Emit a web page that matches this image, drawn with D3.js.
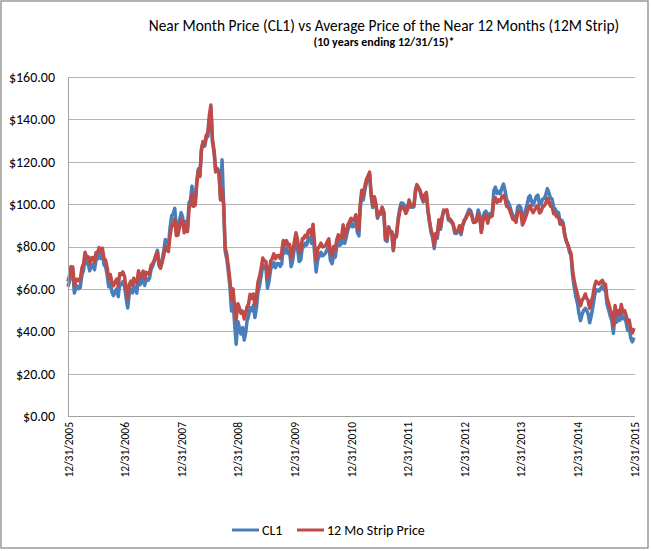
<!DOCTYPE html>
<html>
<head>
<meta charset="utf-8">
<script src="https://cdn.jsdelivr.net/npm/d3@7"></script>
<style>
    body { margin: 0; background: #fff; }
    svg { display: block; font-family: Carlito, Calibri, Lato, sans-serif; }
</style>
</head>
<body>
<svg id="chart"></svg>
<script>
// sample dates: 10th, 20th and last day of every month, starting after 12/31/2005
const years = [2006, 2007, 2008, 2009, 2010, 2011, 2012, 2013, 2014, 2015];
const startDate = new Date(2005, 11, 31);
const tickDates = [2005, 2006, 2007, 2008, 2009, 2010, 2011, 2012, 2013, 2014, 2015].map(y => new Date(y, 11, 31));

// CL1 near month price, 3 readings per month
const cl1Start = 61.0;
const cl1_2006 = [63.9, 68.4, 67.9, 58.0, 60.5, 61.4, 60.1, 60.6, 66.6, 68.7, 74.5, 71.9,
                  72.1, 68.5, 71.3, 71.4, 69.0, 73.9, 74.1, 76.5, 74.4, 76.3, 71.4, 70.3,
                  66.3, 61.0, 62.9, 58.6, 56.8, 58.7, 60.0, 56.3, 62.4, 62.0, 63.4, 61.0];
const cl1_2007 = [55.6, 51.0, 58.1, 59.9, 58.1, 61.8, 60.0, 58.0, 65.9, 61.9, 63.4, 65.7,
                  61.6, 64.9, 64.0, 65.0, 69.1, 70.7, 72.8, 75.6, 78.2, 71.5, 69.9, 74.0,
                  78.0, 83.3, 81.7, 80.3, 88.6, 94.5, 95.5, 98.0, 88.7, 87.9, 92.2, 96.0];
const cl1_2008 = [93.7, 88.0, 91.8, 88.4, 100.7, 101.8, 108.5, 102.0, 101.6, 110.9, 116.7, 113.5,
                  125.8, 129.1, 127.4, 131.3, 131.9, 140.0, 145.0, 129.3, 124.1, 115.2, 116.9, 115.5,
                  102.6, 120.9, 100.6, 77.7, 74.3, 67.8, 60.8, 49.6, 54.4, 43.5, 33.9, 44.6];
const cl1_2009 = [41.7, 38.7, 41.7, 35.9, 39.5, 44.8, 47.1, 51.1, 49.7, 52.2, 46.5, 51.1,
                  58.5, 61.5, 66.3, 71.3, 69.6, 69.9, 60.4, 63.6, 69.5, 70.6, 72.5, 70.0,
                  71.9, 72.0, 70.6, 71.8, 79.6, 77.0, 79.1, 76.7, 77.3, 70.5, 73.4, 79.4];
const cl1_2010 = [82.7, 79.0, 72.9, 73.8, 79.8, 79.7, 81.5, 80.7, 83.8, 84.3, 81.5, 86.2,
                  76.8, 68.0, 74.0, 75.5, 77.2, 75.6, 76.1, 77.0, 78.9, 80.3, 73.5, 71.9,
                  76.5, 74.9, 80.0, 82.7, 80.6, 81.4, 87.8, 81.5, 84.1, 87.8, 89.4, 91.4];
const cl1_2011 = [89.3, 89.6, 92.2, 86.7, 85.0, 97.0, 104.4, 102.0, 106.7, 110.3, 111.5, 113.9,
                  103.9, 98.4, 102.7, 99.3, 93.3, 95.4, 95.2, 98.1, 95.7, 82.9, 82.4, 88.8,
                  87.2, 86.9, 78.0, 85.4, 85.3, 93.2, 97.8, 100.5, 100.4, 99.4, 97.2, 98.8];
const cl1_2012 = [101.3, 98.5, 98.5, 98.7, 105.8, 108.6, 107.4, 106.1, 103.0, 101.0, 103.9, 104.9,
                  96.8, 91.5, 86.5, 84.1, 79.0, 85.0, 83.9, 91.8, 88.1, 93.4, 96.7, 96.5,
                  96.5, 92.4, 92.2, 91.3, 90.1, 86.2, 86.1, 86.8, 88.9, 85.6, 89.5, 91.8];
const cl1_2013 = [93.8, 95.5, 97.5, 97.0, 94.5, 92.0, 92.1, 92.9, 97.2, 94.6, 87.0, 93.5,
                  96.0, 96.7, 92.0, 95.4, 95.4, 96.6, 106.5, 108.0, 105.0, 106.0, 104.9, 107.7,
                  109.5, 106.4, 102.3, 101.0, 99.2, 96.4, 94.6, 93.9, 92.7, 98.5, 99.3, 98.4];
const cl1_2014 = [92.7, 94.4, 97.5, 100.1, 103.3, 104.0, 101.1, 99.5, 101.6, 103.6, 104.3, 99.7,
                  100.0, 102.4, 102.7, 104.4, 107.3, 105.4, 102.9, 102.4, 98.2, 97.7, 96.1, 96.0,
                  91.7, 92.4, 91.2, 85.8, 82.7, 80.5, 77.4, 75.6, 66.2, 61.0, 56.5, 53.3];
const cl1_2015 = [48.4, 45.0, 48.2, 50.0, 50.8, 49.8, 48.3, 44.0, 47.6, 51.6, 56.4, 59.6,
                  59.4, 59.0, 60.3, 61.4, 59.6, 59.5, 52.7, 50.2, 47.1, 44.9, 39.0, 49.2,
                  44.2, 46.7, 45.1, 49.6, 45.9, 46.6, 44.2, 40.4, 41.7, 36.8, 35.0, 37.0];

// average of the near 12 months (12M strip), same dates
const stripStart = 63.5;
const strip_2006 = [66.5, 70.5, 70.3, 61.5, 63.8, 64.6, 63.8, 64.3, 69.9, 71.8, 77.3, 75.0,
                    75.2, 71.9, 74.7, 74.8, 72.5, 77.2, 77.2, 79.5, 77.6, 79.2, 74.5, 73.5,
                    69.8, 64.8, 66.8, 63.0, 61.5, 63.3, 64.6, 61.3, 67.2, 66.8, 68.0, 65.8];
const strip_2007 = [59.8, 55.5, 62.2, 63.7, 61.8, 65.0, 63.5, 62.7, 68.6, 65.0, 66.5, 68.4,
                    64.8, 67.8, 67.0, 67.6, 71.0, 72.0, 73.4, 75.6, 77.3, 71.2, 69.8, 72.7,
                    75.8, 80.0, 78.7, 77.6, 84.8, 89.8, 90.0, 93.0, 85.2, 85.3, 89.1, 92.8];
const strip_2008 = [92.0, 86.5, 90.0, 87.0, 98.0, 99.7, 104.5, 99.0, 99.6, 109.5, 115.8, 113.0,
                    125.6, 129.5, 128.2, 132.5, 133.5, 141.8, 146.8, 130.8, 125.0, 115.4, 116.0, 115.0,
                    102.0, 107.0, 100.0, 79.5, 76.6, 70.5, 64.0, 55.0, 60.0, 51.5, 45.5, 53.0];
const strip_2009 = [51.0, 48.5, 49.5, 45.8, 48.0, 51.5, 52.8, 57.4, 55.5, 57.6, 52.5, 56.5,
                    63.2, 65.8, 70.0, 74.6, 73.2, 73.0, 64.8, 67.6, 73.2, 74.4, 76.5, 74.2,
                    75.7, 75.8, 74.4, 77.5, 82.8, 80.6, 82.8, 80.4, 81.0, 74.5, 77.0, 82.4];
const strip_2010 = [86.5, 83.2, 77.2, 78.0, 83.8, 83.6, 85.3, 84.5, 87.4, 88.0, 85.4, 90.5,
                    81.6, 73.2, 79.0, 80.0, 81.6, 79.8, 80.0, 80.6, 82.3, 83.6, 77.2, 75.8,
                    80.0, 78.4, 83.2, 85.5, 83.6, 84.4, 90.3, 84.4, 86.8, 90.0, 91.6, 93.3];
const strip_2011 = [92.3, 92.6, 95.0, 89.6, 87.8, 99.5, 106.5, 104.2, 108.6, 111.8, 113.2, 115.1,
                    105.0, 99.5, 103.5, 100.0, 94.2, 96.2, 95.8, 98.6, 96.2, 83.8, 83.3, 89.3,
                    87.3, 86.9, 78.6, 84.8, 84.6, 92.0, 96.3, 98.8, 98.7, 97.5, 95.6, 97.3];
const strip_2012 = [102.0, 99.3, 99.3, 99.6, 106.6, 109.2, 107.9, 106.6, 103.6, 101.7, 104.5, 105.5,
                    97.6, 92.4, 87.6, 85.3, 80.4, 86.2, 85.0, 92.6, 89.0, 94.0, 97.2, 97.0,
                    97.3, 93.2, 93.0, 92.0, 90.8, 87.0, 87.0, 87.7, 89.8, 86.6, 90.2, 92.5];
const strip_2013 = [93.2, 94.8, 96.4, 95.8, 93.6, 91.3, 91.4, 92.0, 95.4, 93.2, 86.6, 91.8,
                    94.6, 95.2, 91.0, 94.1, 94.0, 94.6, 102.0, 103.0, 100.8, 102.0, 101.4, 103.5,
                    104.0, 102.4, 99.0, 98.6, 97.3, 94.8, 92.8, 92.6, 91.4, 96.0, 96.7, 96.0];
const strip_2014 = [90.2, 91.6, 94.0, 96.1, 98.8, 99.3, 97.3, 96.0, 97.3, 98.8, 99.4, 95.8,
                    96.4, 98.6, 99.2, 100.5, 102.8, 101.2, 99.0, 98.7, 95.4, 95.3, 94.0, 94.2,
                    90.5, 91.0, 90.0, 85.3, 82.6, 80.8, 78.4, 76.6, 68.8, 64.0, 60.5, 57.6];
const strip_2015 = [54.5, 52.0, 54.8, 55.8, 57.6, 55.6, 54.6, 50.8, 53.8, 56.8, 61.2, 63.6,
                    62.8, 62.3, 63.4, 64.0, 62.4, 62.2, 55.6, 53.2, 50.3, 47.9, 42.6, 52.2,
                    47.4, 49.7, 48.2, 52.6, 49.0, 49.8, 47.6, 44.0, 45.3, 40.8, 39.2, 41.5];

const cl1Values = [cl1Start].concat(cl1_2006, cl1_2007, cl1_2008, cl1_2009, cl1_2010,
                                    cl1_2011, cl1_2012, cl1_2013, cl1_2014, cl1_2015);
const stripValues = [stripStart].concat(strip_2006, strip_2007, strip_2008, strip_2009, strip_2010,
                                        strip_2011, strip_2012, strip_2013, strip_2014, strip_2015);

const seriesNames = ["CL1", "12 Mo Strip Price"];
const seriesColors = ["#4a7ebb", "#be4b48"];
const yTicks = [0, 20, 40, 60, 80, 100, 120, 140, 160];

const titleText = "Near Month Price (CL1) vs Average Price of the Near 12 Months (12M Strip)";
const subtitleText = "(10 years ending 12/31/15)*";

function buildDates() {
    const dates = [startDate];
    years.forEach(y => {
        for (let m = 0; m < 12; m++) {
            dates.push(new Date(y, m, 10), new Date(y, m, 20), new Date(y, m + 1, 0));
        }
    });
    return dates;
}

class PriceChart {
    margin = { top: 77, right: 16, bottom: 135, left: 68 }

    constructor(svg, width = 651, height = 551) {
        this.svg = d3.select(svg);
        this.width = width;
        this.height = height;
    }

    initialize() {
        this.svg.attr("width", this.width).attr("height", this.height);

        this.svg.append("rect")
            .attr("x", 1).attr("y", 1)
            .attr("width", this.width - 4).attr("height", this.height - 4)
            .attr("fill", "#fff")
            .attr("stroke", "#8a8a8a")
            .attr("stroke-width", 1.3);

        this.xScale = d3.scaleTime()
            .domain([tickDates[0], tickDates[tickDates.length - 1]])
            .range([this.margin.left, 634]);
        this.yScale = d3.scaleLinear()
            .domain([0, 160])
            .range([416, this.margin.top]);

        this.grid = this.svg.append("g");
        this.container = this.svg.append("g");
        this.xAxis = this.svg.append("g");
        this.yAxis = this.svg.append("g");
        this.legend = this.svg.append("g");
    }

    update(dates, series) {
        const x = this.xScale, y = this.yScale;

        this.grid.selectAll("line")
            .data(yTicks.filter(d => d > 0))
            .join("line")
            .attr("x1", x.range()[0]).attr("x2", 635)
            .attr("y1", d => Math.round(y(d)) + 0.5).attr("y2", d => Math.round(y(d)) + 0.5)
            .attr("stroke", "#b5b5b5")
            .attr("stroke-width", 1);

        this.yAxis
            .attr("transform", `translate(${x.range()[0]},0)`)
            .call(d3.axisLeft(y).tickValues(yTicks).tickSize(0).tickPadding(13)
                .tickFormat(d3.format("$.2f")));
        this.yAxis.select(".domain").attr("stroke", "#a0a0a0");
        this.yAxis.selectAll("text").attr("font-size", 14).attr("fill", "#000")
            .attr("font-family", "Carlito, Calibri, Lato, sans-serif");

        this.xAxis
            .attr("transform", `translate(0,${y(0)})`)
            .call(d3.axisBottom(x).tickValues(tickDates).tickSize(0)
                .tickFormat(d3.timeFormat("%m/%d/%Y")));
        this.xAxis.select(".domain").attr("stroke", "#a0a0a0")
            .attr("d", `M${x.range()[0]},0.5H635`);
        this.xAxis.selectAll("text")
            .attr("transform", "rotate(-90)")
            .attr("text-anchor", "end")
            .attr("x", -6).attr("y", 0).attr("dy", "0.35em")
            .attr("font-size", 11.5).attr("fill", "#000")
            .attr("font-family", "Carlito, Calibri, Lato, sans-serif");

        const line = d3.line()
            .x((d, i) => x(dates[i]))
            .y(d => y(d));

        this.container.selectAll("path")
            .data(series)
            .join("path")
            .attr("d", d => line(d.values))
            .attr("fill", "none")
            .attr("stroke", d => d.color)
            .attr("stroke-width", 3.5)
            .attr("stroke-linejoin", "round");

        // title
        this.svg.append("text")
            .attr("x", 384).attr("y", 31)
            .attr("text-anchor", "middle")
            .attr("font-size", 15.4)
            .text(titleText);
        this.svg.append("text")
            .attr("x", 384).attr("y", 46)
            .attr("text-anchor", "middle")
            .attr("font-size", 12)
            .attr("font-weight", "bold")
            .text(subtitleText);

        // legend
        const legendX = [232, 297];
        const items = this.legend.selectAll("g")
            .data(series)
            .join("g")
            .attr("transform", (d, i) => `translate(${legendX[i]},530)`);
        items.append("line")
            .attr("x1", 0).attr("x2", 27)
            .attr("stroke", d => d.color)
            .attr("stroke-width", 3);
        items.append("text")
            .attr("x", 30).attr("dy", "0.35em")
            .attr("font-size", 14)
            .text(d => d.name);
    }
}

const chart = new PriceChart("#chart");
chart.initialize();
chart.update(buildDates(), [
    { name: seriesNames[0], color: seriesColors[0], values: cl1Values },
    { name: seriesNames[1], color: seriesColors[1], values: stripValues }
]);
</script>
</body>
</html>
